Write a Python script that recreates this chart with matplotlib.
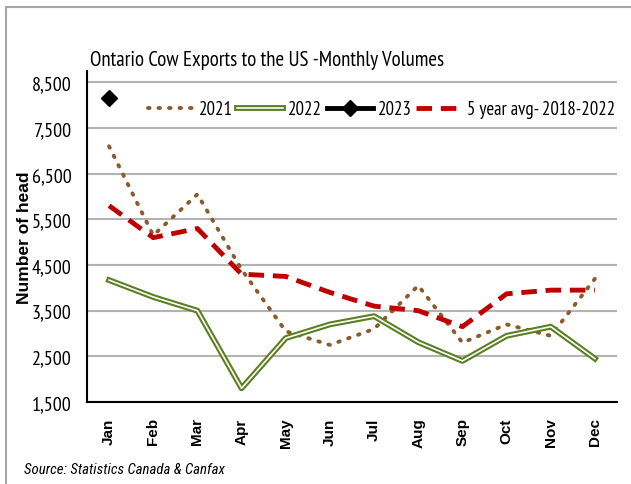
import matplotlib
matplotlib.use("Agg")
import matplotlib.pyplot as plt
import matplotlib.patheffects as pe
from matplotlib.patches import Rectangle

plt.rcParams['font.family'] = ['PT Sans Narrow', 'DejaVu Sans']

months = ["Jan", "Feb", "Mar", "Apr", "May", "Jun", "Jul", "Aug", "Sep", "Oct", "Nov", "Dec"]
y2021 = [7100, 5150, 6050, 4400, 3050, 2750, 3100, 4050, 2800, 3200, 2950, 4200]
y2022 = [4170, 3800, 3500, 1800, 2900, 3200, 3380, 2810, 2400, 2950, 3150, 2450]
y2023 = [8150]
avg5 = [5800, 5100, 5300, 4300, 4250, 3900, 3600, 3500, 3150, 3870, 3950, 3950]
yticks = [1500, 2500, 3500, 4500, 5500, 6500, 7500, 8500]

fig = plt.figure(figsize=(6.31, 4.85), dpi=100)
fig.patches.append(Rectangle((6/631, -0.1), 1.2, 1.1 - 8/485, transform=fig.transFigure,
                             fill=False, edgecolor='#a6a6a6', linewidth=1.5))
ax = fig.add_axes([87/631, 1 - 403/485, 530/631, 331/485])

x = list(range(12))
ax.plot(x, y2021, color='#8c5a2b', linewidth=2.8, linestyle=(0, (0.4, 2.3)),
        dash_capstyle='round', label='2021', zorder=3)
ax.plot(x, y2022, color='white', linewidth=1.2, label='2022', zorder=3,
        path_effects=[pe.Stroke(linewidth=4.2, foreground='#5a7f22'), pe.Normal()])
ax.plot(x[:1], y2023, color='black', linewidth=3.5, marker='D', markersize=8,
        label='2023', zorder=4)
ax.plot(x, avg5, color='#c00000', linewidth=3.5, linestyle=(0, (3.2, 1.8)),
        label='5 year avg- 2018-2022', zorder=3)

ax.set_xlim(-0.5, 11.5)
ax.set_ylim(1500, 8750)
ax.set_yticks(yticks)
ax.set_yticklabels([f"{v:,}" for v in yticks], fontsize=14.5)
ax.set_xticks(x)
ax.set_xticklabels(months, rotation=90, fontsize=11, fontweight='bold',
                   family=['Liberation Sans', 'DejaVu Sans'])
ax.tick_params(axis='y', length=0, pad=11)
ax.tick_params(axis='x', length=0, pad=11)
ax.grid(axis='y', color='#b3b3b3', linewidth=1.5)
ax.set_axisbelow(True)
for s in ['top', 'right']:
    ax.spines[s].set_visible(False)
ax.spines['left'].set_linewidth(1.5)
ax.spines['bottom'].set_linewidth(1.5)

ax.set_ylabel("Number of head", fontsize=12.5, fontweight='bold',
              family=['Liberation Sans', 'DejaVu Sans'])
ax.yaxis.set_label_coords(-0.103, 0.5)

ax.legend(loc='center', bbox_to_anchor=(0.556, 0.885), ncol=4, frameon=False,
          fontsize=13.5, handlelength=2.45, columnspacing=0.25, handletextpad=0.27,
          borderpad=0.2)

fig.text(267/631, 1 - 60/485, "Ontario Cow Exports to the US -Monthly Volumes",
         ha='center', va='center', fontsize=15)
fig.text(24/631, 1 - 470/485, "Source: Statistics Canada & Canfax",
         ha='left', va='center', fontsize=10.7, style='italic',
         family=['Roboto Condensed', 'DejaVu Sans'])

fig.savefig("out.png", dpi=100)
